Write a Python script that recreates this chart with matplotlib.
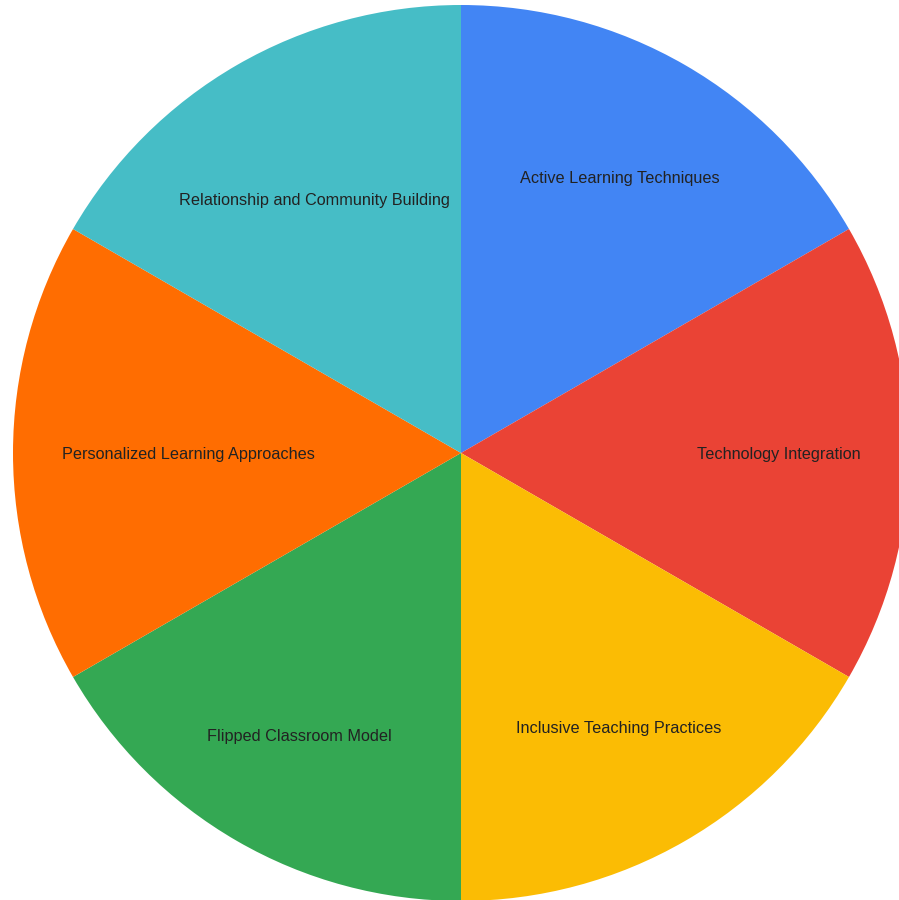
import matplotlib.pyplot as plt

categories = ["Active Learning Techniques", "Technology Integration",
              "Inclusive Teaching Practices", "Flipped Classroom Model",
              "Personalized Learning Approaches", "Relationship and Community Building"]
values = [1, 1, 1, 1, 1, 1]
colors = ["#4285F4", "#EA4335", "#FBBC04", "#34A853", "#FF6D01", "#46BDC6"]

fig = plt.figure(figsize=(8.99, 9.0), dpi=100)
ax = fig.add_axes([0, 0, 1, 1])

# pie centre at pixel (461, 453), radius 448 px
cx, cy, r = 461, 453, 448
W, H = 899, 900

# label centres in pixels (label placement as in the original renderer)
label_px = [(620, 179), (779, 455), (619, 729), (299, 736), (188, 455), (314, 201)]

wedges, texts = ax.pie(values, labels=categories, colors=colors,
                       startangle=90, counterclock=False,
                       labeldistance=0.71, radius=1.0,
                       textprops=dict(family="Liberation Sans", fontsize=11.7,
                                      color="#222222", ha="center", va="center"))
for t, (px, py) in zip(texts, label_px):
    t.set_horizontalalignment("center")
    t.set_position(((px - cx) / r, (cy - py) / r))

ax.set_xlim(-cx / r, (W - cx) / r)
ax.set_ylim(-(H - cy) / r, cy / r)
ax.set_aspect("equal", adjustable="datalim")
ax.axis("off")

fig.savefig("out.png", dpi=100)
